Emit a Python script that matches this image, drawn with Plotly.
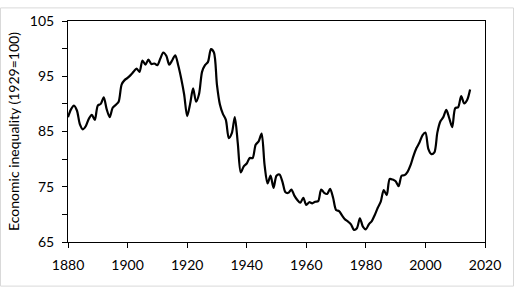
import plotly.graph_objects as go

years = list(range(1880, 2016))
inequality = [
    87.6, 89.0, 89.7, 88.8, 86.3, 85.4, 86.0, 87.3, 88.0, 87.1,  # 1880-1889
    89.7, 90.0, 91.2, 89.0, 87.6, 89.3, 89.8, 90.4, 93.5, 94.3,  # 1890-1899
    94.7, 95.2, 95.8, 96.4, 95.8, 97.85, 97.1, 98.0, 97.2, 97.3,  # 1900-1909
    97.0, 98.2, 99.3, 98.7, 97.1, 97.9, 98.8, 97.0, 94.6, 91.7,  # 1910-1919
    87.8, 90.0, 92.8, 90.4, 91.8, 95.8, 97.0, 97.6, 99.9, 99.3,  # 1920-1929
    93.5, 89.9, 88.2, 87.1, 83.8, 84.7, 87.6, 82.9, 77.6, 78.7,  # 1930-1939
    79.2, 80.2, 80.2, 82.6, 83.2, 84.6, 78.9, 75.6, 77.0, 74.8,  # 1940-1949
    77.0, 77.2, 75.9, 74.0, 73.9, 74.5, 73.4, 72.6, 72.1, 73.0,  # 1950-1959
    71.7, 72.2, 72.0, 72.3, 72.4, 74.5, 73.9, 73.7, 74.6, 73.0,  # 1960-1969
    70.8, 70.6, 69.8, 69.1, 68.7, 68.2, 67.2, 67.5, 69.3, 67.8,  # 1970-1979
    67.3, 68.2, 68.8, 69.9, 71.2, 72.3, 74.4, 73.5, 76.4, 76.3,  # 1980-1989
    76.0, 75.1, 77.0, 77.1, 77.7, 78.9, 80.6, 82.0, 83.0, 84.3,  # 1990-1999
    84.8, 81.8, 80.9, 81.2, 84.8, 86.8, 87.6, 88.9, 87.4, 85.8,  # 2000-2009
    89.2, 89.4, 91.4, 90.1, 90.7, 92.6,                          # 2010-2015
]

y_tick_vals = [65, 70, 75, 80, 85, 90, 95, 100, 105]
y_tick_text = ["65", "", "75", "", "85", "", "95", "", "105"]
x_tick_vals = [1880, 1900, 1920, 1940, 1960, 1980, 2000, 2020]
y_title = "Economic inequality (1929=100)"

FONT = "Lato"

fig = go.Figure()
fig.add_trace(go.Scatter(
    x=years, y=inequality, mode="lines",
    line=dict(color="black", width=2.2, shape="spline", smoothing=0.8),
    hoverinfo="skip", showlegend=False,
))

W, H = 514, 288
ml, mr, mt, mb = 68, 29, 14, 46
pw, ph = W - ml - mr, H - mt - mb

fig.update_layout(
    width=W, height=H,
    margin=dict(l=ml, r=mr, t=mt, b=mb),
    paper_bgcolor="white", plot_bgcolor="white",
    font=dict(family=FONT, size=13, color="black"),
    xaxis=dict(
        range=[1880, 2020], tickvals=x_tick_vals,
        showgrid=False, zeroline=False,
        showline=True, linecolor="black", linewidth=1, mirror=True,
        ticks="outside", ticklen=5, tickcolor="black", tickwidth=1,
        tickfont=dict(family=FONT, size=14), ticklabelstandoff=5,
    ),
    yaxis=dict(
        range=[65, 105], tickvals=y_tick_vals, ticktext=y_tick_text,
        showgrid=False, zeroline=False,
        showline=True, linecolor="black", linewidth=1, mirror=True,
        ticks="outside", ticklen=5, tickcolor="black", tickwidth=1,
        tickfont=dict(family=FONT, size=14), ticklabelstandoff=5,
        title=dict(text=y_title, font=dict(family=FONT, size=14), standoff=6),
    ),
    shapes=[dict(
        type="rect", xref="paper", yref="paper",
        x0=(0.5 - ml) / pw, x1=(W - 0.5 - ml) / pw,
        y0=-(mb - 0.5) / ph, y1=(ph + mt - 0.5) / ph,
        line=dict(color="#d9d9d9", width=1), layer="below",
    )],
)

fig.write_html("out.html")
